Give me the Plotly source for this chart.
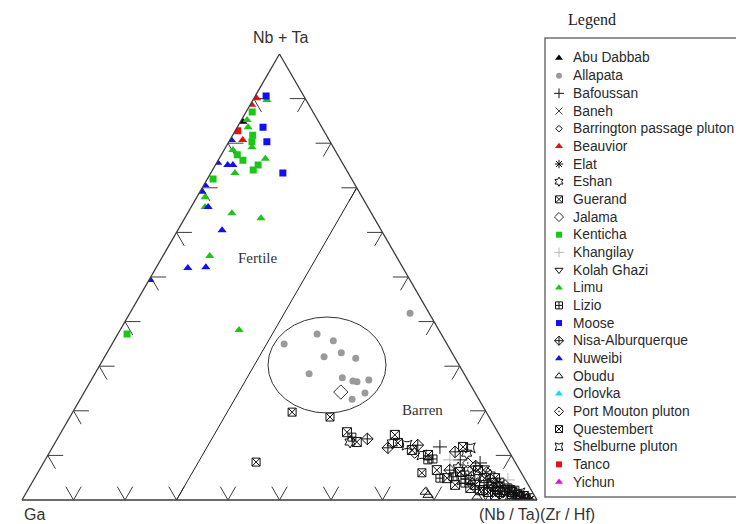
import plotly.graph_objects as go

# Compositions in percent: (Nb+Ta, Ga, (Nb/Ta)(Zr/Hf))
abu_dabbab = [(84.8, 14.7, 0.5)]
allapata = [(41.9, 3.7, 54.4), (35.0, 31.6, 33.4), (37.2, 24.1, 38.7), (35.7, 21.7, 42.6),
            (32.1, 25.3, 42.6), (33.0, 21.5, 45.5), (31.8, 19.3, 48.9), (28.3, 30.1, 41.6),
            (27.4, 24.1, 48.5), (26.7, 22.4, 50.9), (26.5, 21.7, 51.8), (26.9, 19.2, 53.9),
            (24.0, 21.4, 54.6), (22.6, 24.6, 52.8)]
bafoussan = [(11.9, 12.9, 75.2), (8.3, 6.9, 84.8), (9.0, 10.4, 80.6)]
baneh = [(5.4, 8.0, 86.6), (1.3, 5.2, 93.5)]
barrington = [(4.0, 10.6, 85.4), (1.1, 6.6, 92.3), (0.4, 1.8, 97.8)]
beauvior = [(90.1, 9.4, 0.5), (88.6, 11.1, 0.3), (80.7, 16.8, 2.5)]
elat = [(4.0, 5.6, 90.4), (0.9, 3.8, 95.3), (0.2, 1.3, 98.5)]
eshan = [(13.0, 29.8, 57.2), (12.8, 21.7, 65.5), (10.5, 8.4, 81.1), (7.2, 11.7, 81.1),
         (5.6, 9.2, 85.2), (5.6, 6.3, 88.1), (1.8, 5.7, 92.5)]
guerand = [(19.7, 37.7, 42.6), (18.6, 30.9, 50.5), (8.5, 50.3, 41.2), (6.1, 19.3, 74.6)]
jalama = [(24.2, 26.0, 49.8)]
kenticha = [(87.0, 11.8, 1.2), (81.8, 14.3, 3.9), (80.3, 15.2, 4.5), (77.4, 19.5, 3.1),
            (76.2, 19.0, 4.8), (75.1, 16.6, 8.3), (74.0, 18.1, 7.9), (72.0, 26.9, 1.1),
            (37.2, 61.0, 1.8)]
khangilay = [(9.0, 12.4, 78.6), (4.5, 3.4, 92.1)]
kolah_ghazi = [(7.2, 6.5, 86.3), (2.7, 3.9, 93.4)]
limu = [(89.7, 7.6, 2.7), (85.2, 13.7, 1.1), (83.6, 14.3, 2.1), (79.1, 15.8, 5.1),
        (78.5, 19.8, 1.7), (76.5, 14.5, 9.0), (73.3, 22.0, 4.7), (67.9, 30.5, 1.6),
        (65.7, 31.6, 2.7), (64.3, 27.1, 8.6), (63.2, 22.0, 14.8), (54.7, 36.2, 9.1),
        (38.1, 38.8, 23.1)]
lizio = [(14.1, 28.9, 57.0), (9.0, 16.7, 74.3), (9.2, 15.6, 75.2), (4.9, 16.4, 78.7),
         (5.2, 13.7, 81.1), (5.6, 11.2, 83.2), (3.4, 7.8, 88.8), (4.0, 5.2, 90.8),
         (2.7, 4.3, 93.0), (2.2, 3.2, 94.6), (3.8, 12.1, 84.1)]
moose = [(90.6, 7.3, 2.1), (83.6, 11.4, 5.0), (80.3, 12.3, 7.4), (73.3, 12.7, 14.0)]
nisa_alburquerque = [(13.7, 26.1, 60.2), (11.7, 23.1, 65.2), (12.3, 17.0, 70.7),
                     (10.8, 10.5, 78.7), (6.7, 13.6, 79.7), (7.6, 8.1, 84.3),
                     (2.7, 7.0, 90.3), (0.4, 2.9, 96.7)]
nuweibi = [(80.7, 19.0, 0.3), (75.6, 24.2, 0.2), (75.1, 22.5, 2.4), (75.1, 21.5, 3.4),
           (70.6, 29.2, 0.2), (69.1, 30.5, 0.4), (65.7, 31.0, 3.3), (60.5, 30.9, 8.6),
           (52.0, 41.8, 6.2), (52.2, 38.2, 9.6), (49.3, 50.5, 0.2)]
obudu = [(1.8, 20.8, 77.4), (1.1, 20.6, 78.3), (0.7, 11.3, 88.0)]
orlovka = [(1.3, 3.5, 95.2)]
port_mouton = [(10.5, 18.5, 71.0), (8.3, 9.3, 82.4), (6.7, 10.1, 83.2), (6.3, 6.6, 87.1),
               (3.4, 4.5, 92.1)]
questembert = [(15.2, 29.3, 55.5), (13.0, 28.5, 58.5), (14.6, 20.3, 65.1), (12.8, 20.6, 66.6),
               (11.2, 18.7, 70.1), (10.1, 16.1, 73.8), (11.9, 8.4, 79.7), (6.7, 16.1, 77.2),
               (4.9, 15.0, 80.1), (6.3, 11.8, 81.9), (4.5, 10.7, 84.8), (6.7, 8.1, 85.2),
               (4.9, 7.7, 87.4), (3.8, 6.8, 89.4), (2.9, 6.1, 91.0), (2.2, 5.1, 92.7),
               (1.8, 3.9, 94.3), (1.1, 3.2, 95.7), (0.9, 2.1, 97.0), (2.7, 11.6, 85.7),
               (3.4, 14.2, 82.4), (2.2, 10.0, 87.8), (4.9, 5.7, 89.4), (0.4, 0.8, 98.8),
               (1.8, 6.3, 91.9), (2.2, 4.2, 93.6), (0.7, 2.9, 96.4), (0.2, 2.1, 97.7),
               (1.1, 7.6, 91.3), (1.8, 8.6, 89.6), (0.7, 4.5, 94.8), (2.2, 9.4, 88.4),
               (3.4, 10.3, 86.3)]
shelburne = [(12.3, 19.1, 68.6), (10.1, 17.3, 72.6), (11.7, 7.1, 81.2), (4.5, 12.3, 83.2),
             (3.6, 8.7, 87.7), (2.2, 6.7, 91.1), (1.1, 4.7, 94.2), (1.6, 2.5, 95.9)]
tanco = [(82.8, 16.7, 0.5)]
yichun = [(0.7, 2.5, 96.8)]

# Fertile / barren boundary: constant (Nb/Ta)(Zr/Hf) share
BOUNDARY_RATIO = 30.0

BLACK = "#111111"
# name, data, symbol, fill colour, size, open marker?
series = [
    ("Abu Dabbab", abu_dabbab, "triangle-up", "#000000", 8, False),
    ("Allapata", allapata, "circle", "#9a9a9a", 7, False),
    ("Bafoussan", bafoussan, "cross-thin-open", BLACK, 10, True),
    ("Baneh", baneh, "x-thin-open", "#444444", 8, True),
    ("Barrington passage pluton", barrington, "diamond-open", BLACK, 6, True),
    ("Beauvior", beauvior, "triangle-up", "#e81010", 8, False),
    ("Elat", elat, "asterisk-open", BLACK, 8, True),
    ("Eshan", eshan, "hexagram-open", BLACK, 9, True),
    ("Guerand", guerand, "square-x-open", BLACK, 8, True),
    ("Jalama", jalama, "diamond-open", "#333333", 11, True),
    ("Kenticha", kenticha, "square", "#1cc41c", 7, False),
    ("Khangilay", khangilay, "cross-thin-open", "#b8b8b8", 10, True),
    ("Kolah Ghazi", kolah_ghazi, "triangle-down-open", BLACK, 8, True),
    ("Limu", limu, "triangle-up", "#1cc41c", 8, False),
    ("Lizio", lizio, "square-cross-open", BLACK, 8, True),
    ("Moose", moose, "square", "#1010f0", 7, False),
    ("Nisa-Alburquerque", nisa_alburquerque, "diamond-cross-open", BLACK, 9, True),
    ("Nuweibi", nuweibi, "triangle-up", "#1010f0", 8, False),
    ("Obudu", obudu, "triangle-up-open", BLACK, 9, True),
    ("Orlovka", orlovka, "triangle-up", "#10e0e0", 8, False),
    ("Port Mouton pluton", port_mouton, "diamond-open-dot", BLACK, 8, True),
    ("Questembert", questembert, "square-x-open", BLACK, 9, True),
    ("Shelburne pluton", shelburne, "star-square-open", BLACK, 9, True),
    ("Tanco", tanco, "square", "#e81010", 7, False),
    ("Yichun", yichun, "triangle-up", "#e010e0", 8, False),
]

W, H = 736, 524


def px(x):
    return x / W


def py(y):
    return 1 - y / H


def marker_for(symbol, colour, size, is_open):
    m = dict(symbol=symbol, size=size, color=colour)
    m["line"] = dict(color=colour, width=1) if is_open else dict(width=0)
    return m


fig = go.Figure()

# Arrow-style tick stubs on each edge, drawn along the grid directions
STUB = 3.0
LINE = "#3a3a3a"
ta, tb, tc = [], [], []
for k in range(1, 10):
    t = 10.0 * k
    # left edge (c = 0): constant-a stub and constant-b stub
    ta += [t, t, None, t, t - STUB, None]
    tb += [100 - t, 100 - t - STUB, None, 100 - t, 100 - t, None]
    tc += [0, STUB, None, 0, STUB, None]
    # right edge (b = 0): constant-a stub and constant-c stub
    ta += [t, t, None, t, t - STUB, None]
    tb += [0, STUB, None, 0, STUB, None]
    tc += [100 - t, 100 - t - STUB, None, 100 - t, 100 - t, None]
    # bottom edge (a = 0): constant-b stub and constant-c stub
    ta += [0, STUB, None, 0, STUB, None]
    tb += [t, t, None, t, t - STUB, None]
    tc += [100 - t, 100 - t - STUB, None, 100 - t, 100 - t, None]

fig.add_trace(go.Scatterternary(a=ta, b=tb, c=tc, mode="lines",
                                line=dict(color=LINE, width=1), showlegend=False,
                                hoverinfo="skip"))

fig.add_trace(go.Scatterternary(
    a=[0, 100 - BOUNDARY_RATIO], b=[100 - BOUNDARY_RATIO, 0],
    c=[BOUNDARY_RATIO, BOUNDARY_RATIO], mode="lines",
    line=dict(color="#222222", width=1), showlegend=False, hoverinfo="skip"))

# coloured minor groups go underneath the dense black cluster
draw_order = sorted(range(len(series)),
                    key=lambda i: 0 if series[i][0] in ("Orlovka", "Yichun") else 1)
for i in draw_order:
    name, data, symbol, colour, size, is_open = series[i]
    fig.add_trace(go.Scatterternary(
        a=[p[0] for p in data], b=[p[1] for p in data], c=[p[2] for p in data],
        mode="markers", name=name, showlegend=False,
        marker=marker_for(symbol, colour, size, is_open)))

# Boxed legend panel on its own hidden axes (units: pixels inside the panel)
LEGEND_ROW0 = 20.0
LEGEND_STEP = 17.67
LEGEND_MARK_X = 14
LEGEND_TEXT_X = 26
legend_annotations = []
for i, (name, data, symbol, colour, size, is_open) in enumerate(series):
    row = LEGEND_ROW0 + i * LEGEND_STEP
    fig.add_trace(go.Scatter(
        x=[LEGEND_MARK_X], y=[row], mode="markers", xaxis="x", yaxis="y",
        showlegend=False, hoverinfo="skip",
        marker=marker_for(symbol, colour, min(size, 8) - 1, is_open)))
    legend_annotations.append(dict(
        text=name, x=LEGEND_TEXT_X, y=row, xref="x", yref="y",
        xanchor="left", yanchor="middle", showarrow=False,
        font=dict(family="Liberation Sans, Arial, sans-serif", size=13.8, color="#2a2a2a")))

axis_style = dict(showticklabels=False, ticks="", showgrid=False, showline=True,
                  linecolor="#3a3a3a", linewidth=1.3, title=dict(text=""))

label_font = dict(family="Liberation Sans, Arial, sans-serif", size=16, color="#333333")
serif_font = dict(family="Liberation Serif, Times New Roman, serif", size=15, color="#333333")


def paper_label(text, x, y, font):
    return dict(text=text, x=px(x), y=py(y), xref="paper", yref="paper",
                xanchor="center", yanchor="middle", showarrow=False, font=font)


fig.update_layout(
    width=W, height=H,
    margin=dict(l=0, r=0, t=0, b=0, autoexpand=False),
    paper_bgcolor="white",
    plot_bgcolor="rgba(0,0,0,0)",
    showlegend=False,
    ternary=dict(
        sum=100,
        domain=dict(x=[px(22), px(537)], y=[py(500), py(54)]),
        bgcolor="white",
        aaxis=axis_style, baxis=axis_style, caxis=axis_style,
    ),
    xaxis=dict(domain=[px(545), 1], range=[0, W - 545], visible=False, fixedrange=True),
    yaxis=dict(domain=[py(497), py(38)], range=[497 - 38, 0], visible=False, fixedrange=True),
    shapes=[
        dict(type="circle", xref="paper", yref="paper",
             x0=px(268), x1=px(386), y0=py(413), y1=py(317),
             line=dict(color="#333333", width=1)),
        dict(type="rect", xref="paper", yref="paper",
             x0=px(545), x1=px(748), y0=py(497), y1=py(38),
             line=dict(color="#707070", width=1.5)),
    ],
    annotations=[
        paper_label("Nb + Ta", 280, 38, label_font),
        paper_label("Ga", 34, 514, label_font),
        paper_label("(Nb / Ta)(Zr / Hf)", 537, 514, label_font),
        paper_label("Fertile", 257, 258, serif_font),
        paper_label("Barren", 422, 410, serif_font),
        paper_label("Legend", 592, 20, dict(family="Liberation Serif, Times New Roman, serif",
                                            size=16, color="#222222")),
    ] + legend_annotations,
)

fig.write_html("out.html")
